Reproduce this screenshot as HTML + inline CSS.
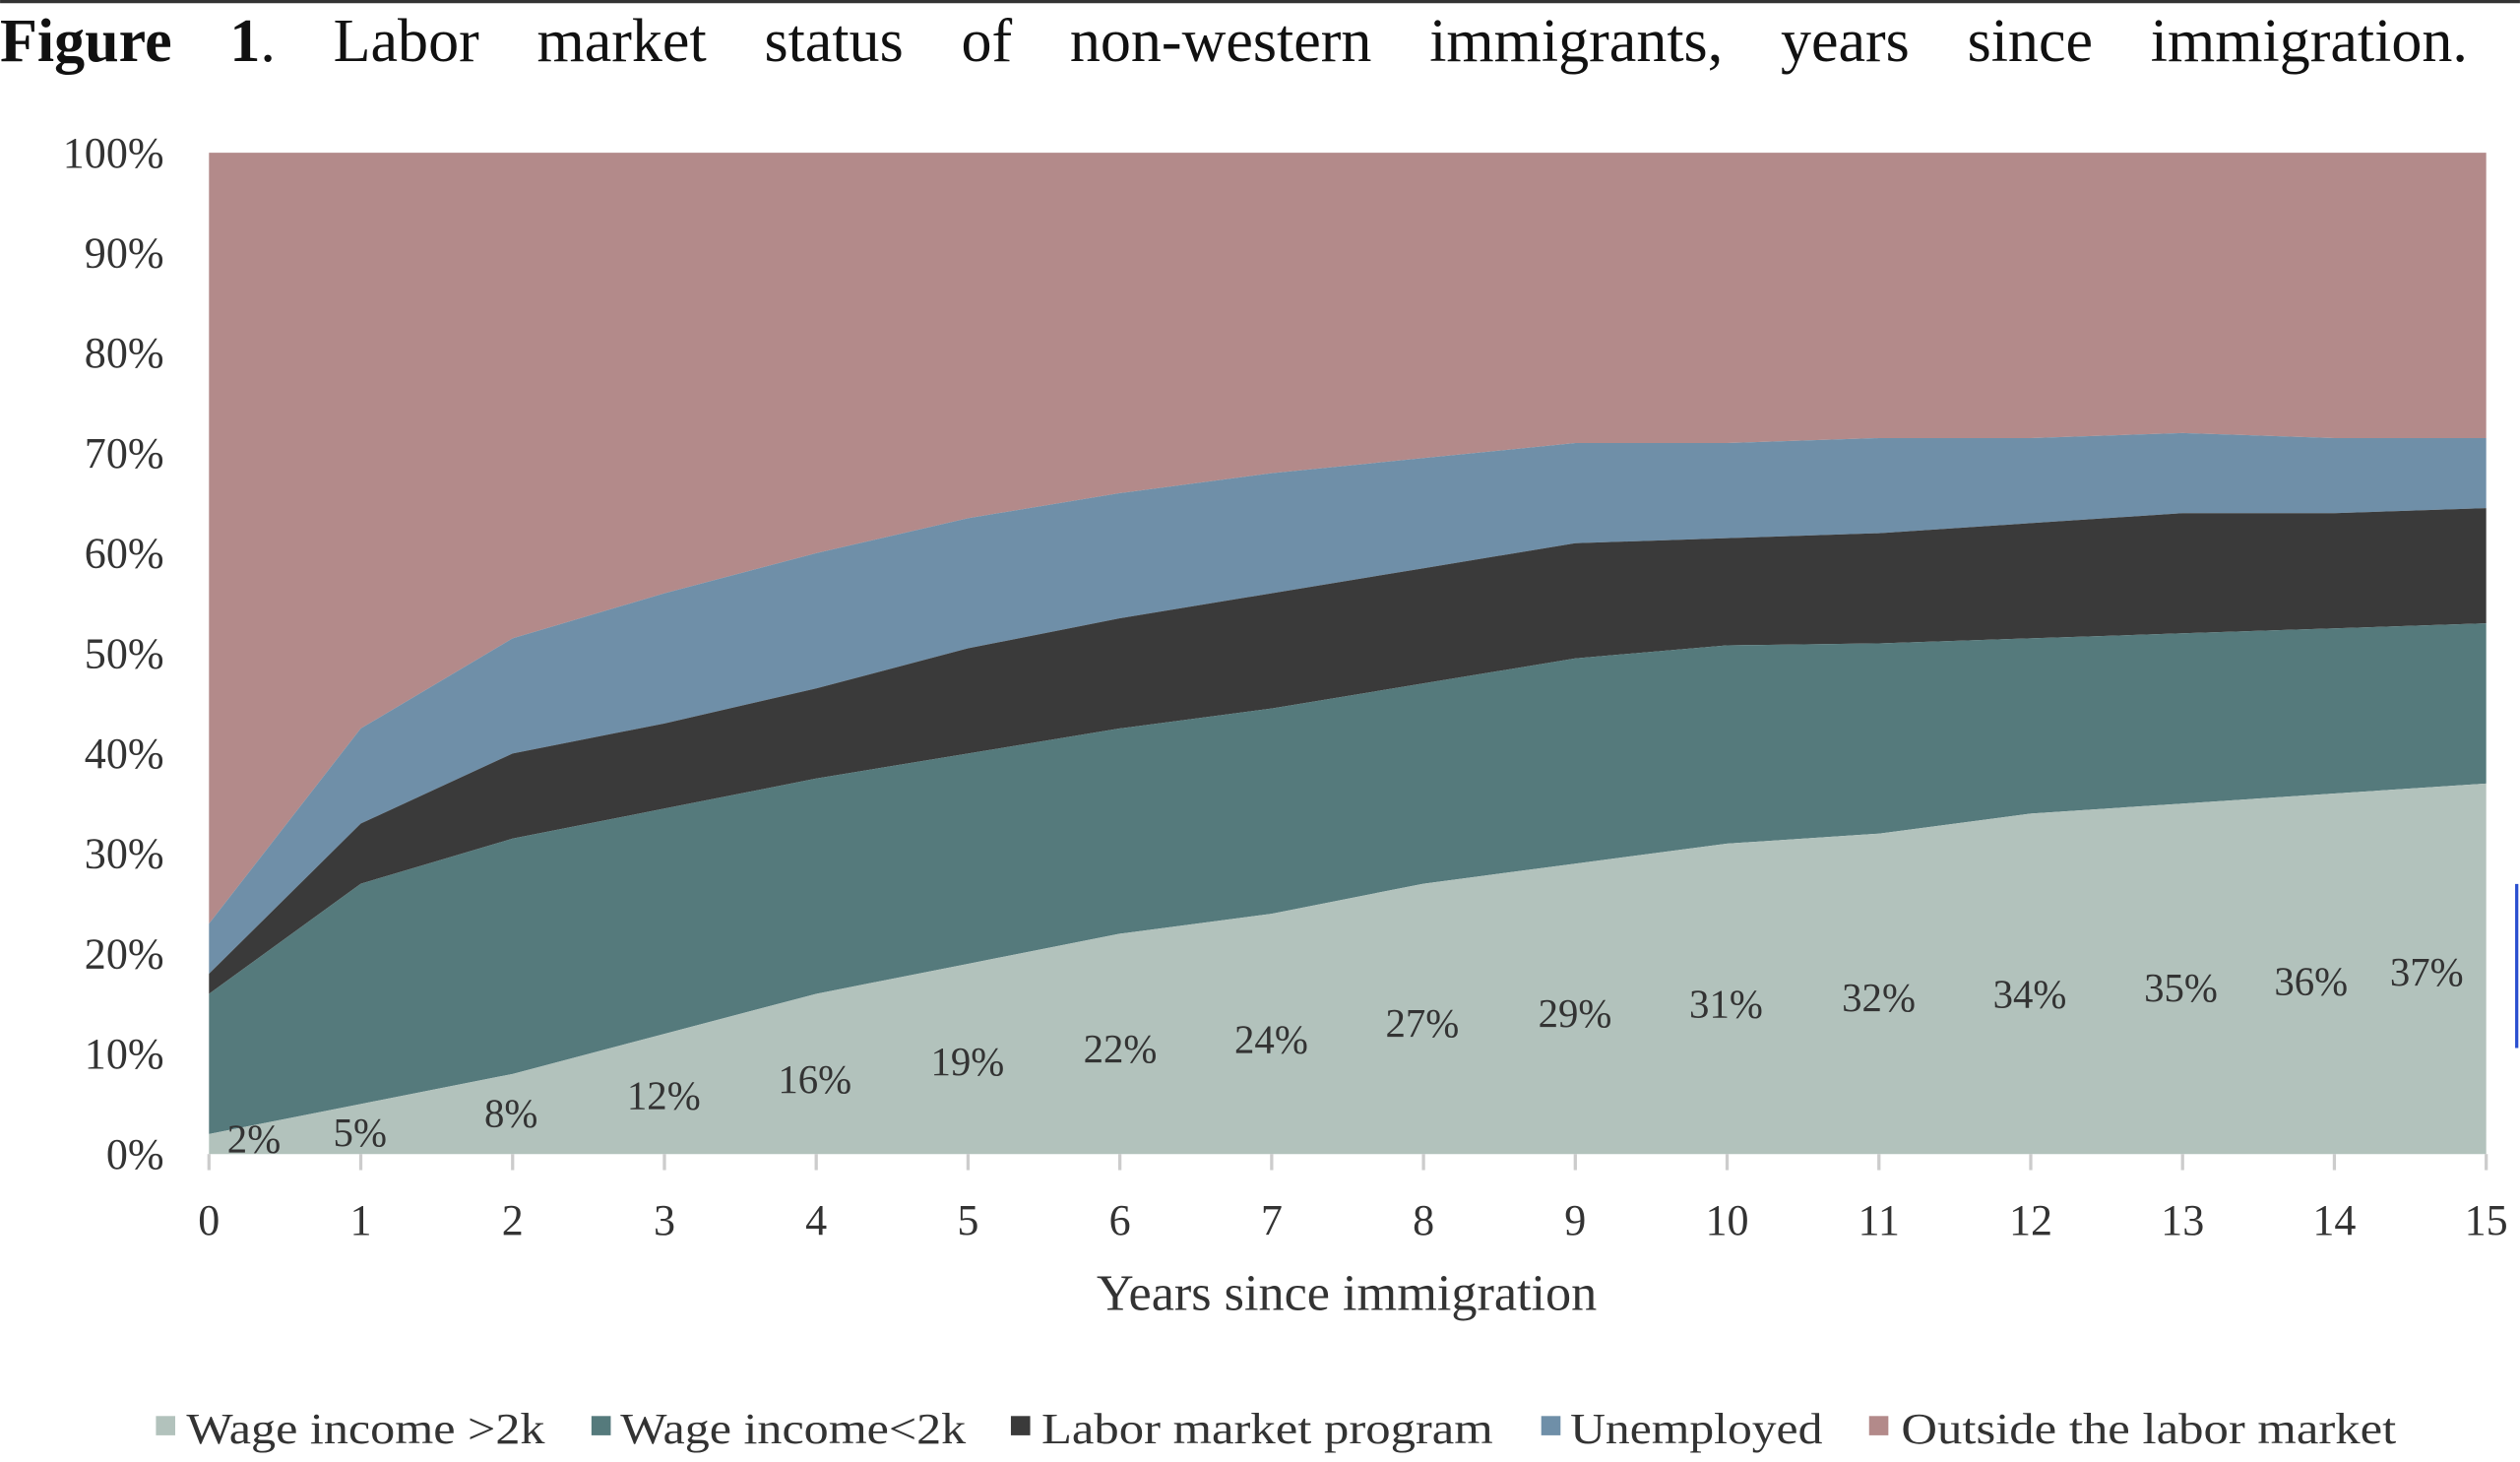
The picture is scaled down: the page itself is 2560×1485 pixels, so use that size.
<!DOCTYPE html>
<html><head><meta charset="utf-8"><style>html,body{margin:0;padding:0;background:#fff}svg{display:block}</style></head><body>
<svg width="2560" height="1485" viewBox="0 0 1568 909.6" xmlns="http://www.w3.org/2000/svg" font-family="'Liberation Serif', serif">
<rect x="0" y="0" width="1568" height="910" fill="#fff"/>
<line x1="0" y1="1" x2="1568" y2="1" stroke="#333" stroke-width="2"/>
<text x="0" y="38" font-size="38" fill="#111" word-spacing="26.5"><tspan font-weight="bold">Figure 1</tspan>. Labor market status of non-western immigrants, years since immigration.</text>
<g id="areas"></g>
<g id="lbl" font-size="27" fill="#333" text-anchor="end"></g>
<text x="838" y="815" font-size="32" fill="#333" text-anchor="middle">Years since immigration</text>
<g font-size="27" fill="#333">
<rect x="97" y="881" width="12" height="12" fill="#b2c2bc"/><text x="116" y="898" textLength="223" lengthAdjust="spacingAndGlyphs">Wage income &gt;2k</text>
<rect x="368" y="881" width="12" height="12" fill="#557a7c"/><text x="386" y="898" textLength="215" lengthAdjust="spacingAndGlyphs">Wage income&lt;2k</text>
<rect x="629" y="881" width="12" height="12" fill="#3a3a3a"/><text x="648" y="898" textLength="281" lengthAdjust="spacingAndGlyphs">Labor market program</text>
<rect x="959" y="881" width="12" height="12" fill="#6f8fa8"/><text x="977" y="898" textLength="157" lengthAdjust="spacingAndGlyphs">Unemployed</text>
<rect x="1163" y="881" width="12" height="12" fill="#b38a8a"/><text x="1183" y="898" textLength="308" lengthAdjust="spacingAndGlyphs">Outside the labor market</text>
</g>
<line x1="1566" y1="550" x2="1566" y2="652" stroke="#2a4fd0" stroke-width="2"/>
<script>
(function(){
var ns="http://www.w3.org/2000/svg";
var L=130,R=1547,T=95,B=718;
function X(i){return L+i*(R-L)/15;}
function Y(v){return B-v*(B-T)/100;}
var s1=[2,5,8,12,16,19,22,24,27,29,31,32,34,35,36,37];
var s2=[16,27,31.5,34.5,37.5,40,42.5,44.5,47,49.5,50.8,51,51.5,52,52.5,53];
var s3=[18,33,40,43,46.5,50.5,53.5,56,58.5,61,61.5,62,63,64,64,64.5];
var s4=[23,42.5,51.5,56,60,63.5,66,68,69.5,71,71,71.5,71.5,72,71.5,71.5];
var s5=[];for(var i=0;i<16;i++)s5.push(100);
var zero=[];for(i=0;i<16;i++)zero.push(0);
var g=document.getElementById('areas');
function area(top,bot,col){
 var d="M"+X(0)+","+Y(top[0]);
 for(var i=1;i<16;i++)d+=" L"+X(i)+","+Y(top[i]);
 for(i=15;i>=0;i--)d+=" L"+X(i)+","+Y(bot[i]);
 d+="Z";var p=document.createElementNS(ns,'path');p.setAttribute('d',d);p.setAttribute('fill',col);g.appendChild(p);
}
area(s5,s4,'#b38a8a');area(s4,s3,'#6f8fa8');area(s3,s2,'#3a3a3a');area(s2,s1,'#557a7c');area(s1,zero,'#b2c2bc');
for(i=0;i<16;i++){var l=document.createElementNS(ns,'line');l.setAttribute('x1',X(i));l.setAttribute('x2',X(i));l.setAttribute('y1',B);l.setAttribute('y2',B+10);l.setAttribute('stroke','#ccc');l.setAttribute('stroke-width','2');g.appendChild(l);}
var lbl=document.getElementById('lbl');
for(i=0;i<=10;i++){var t=document.createElementNS(ns,'text');t.setAttribute('x',102);t.setAttribute('y',Y(i*10)+9);t.textContent=(i*10)+'%';lbl.appendChild(t);}
for(i=0;i<16;i++){var t=document.createElementNS(ns,'text');t.setAttribute('x',X(i));t.setAttribute('y',768);t.setAttribute('text-anchor','middle');t.textContent=i;lbl.appendChild(t);}
var pos=[[158,717],[224,713],[318,701],[413,690],[507,680],[602,669],[697,661],[791,655],[885,645],[980,639],[1074,633],[1169,629],[1263,627],[1357,623],[1438,619],[1510,613]];
for(i=0;i<16;i++){var t=document.createElementNS(ns,'text');t.setAttribute('x',pos[i][0]);t.setAttribute('y',pos[i][1]);t.setAttribute('text-anchor','middle');t.setAttribute('font-size','25');t.textContent=s1[i]+'%';lbl.appendChild(t);}
})();
</script>
</svg>
</body></html>
